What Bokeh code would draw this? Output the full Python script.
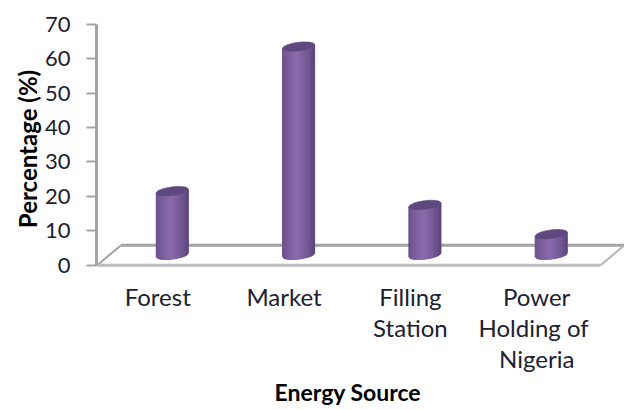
import numpy as np
from bokeh.plotting import figure
from bokeh.models import Title
from bokeh.embed import file_html
from bokeh.resources import INLINE

categories = ["Forest", "Market", "Filling\nStation", "Power\nHolding  of\nNigeria"]
values = [18.5, 60.5, 14.5, 6.0]
y_ticks = [0, 10, 20, 30, 40, 50, 60, 70]

FONT = "Lato"
TXT = "#1c2030"
GREY = "#a3a3a3"

p = figure(width=624, height=410, output_backend="svg", toolbar_location=None,
           x_range=(-0.6, 3.58), y_range=(-3, 70.5),
           min_border_left=96, min_border_right=0, min_border_top=22, min_border_bottom=135,
           outline_line_color=None, background_fill_color="white", tools="")
p.grid.visible = False

# floor
dx, dy = 0.19, 5.8
x0, x1 = -0.595, 3.39
p.line([x0 + dx, x1 + dx], [dy, dy], line_color=GREY, line_width=3)
p.line([x0, x0 + dx], [0, dy], line_color=GREY, line_width=2)
p.line([x1, x1 + dx], [0, dy], line_color="#b5b5b5", line_width=2)
p.line([x0, x1], [0, 0], line_color="#bdbdbd", line_width=3)

# cylinders
half_w = 0.127
rx = half_w
ry = 1.25      # ellipse half-height in value units
tilt = 0.55    # right side higher than left, value units
base_y = 3.0
n = 26
c_edge = np.array([0x58, 0x42, 0x78])
c_mid = np.array([0x8c, 0x6b, 0xad])
def shade(t):
    k = (1 - abs(t + 0.1) / 1.1) ** 0.65
    return "#%02x%02x%02x" % tuple(int(v) for v in c_edge + (c_mid - c_edge) * k)

for i, v in enumerate(values):
    ts = np.linspace(-1, 1, n + 1)
    xs, ys, cols = [], [], []
    for a, b in zip(ts[:-1], ts[1:]):
        pa, pb = np.sqrt(1 - a * a), np.sqrt(1 - b * b)
        bot_a = base_y + tilt * a - ry * pa
        bot_b = base_y + tilt * b - ry * pb
        top_a = base_y + v + tilt * a
        top_b = base_y + v + tilt * b
        xs.append([i + a * rx, i + b * rx, i + b * rx, i + a * rx])
        ys.append([bot_a, bot_b, top_b, top_a])
        cols.append(shade((a + b) / 2))
    p.patches(xs, ys, fill_color=cols, line_color=cols, line_width=1)
    th = np.linspace(0, 2 * np.pi, 60)
    p.patch(i + rx * np.cos(th), base_y + v + tilt * np.cos(th) + ry * np.sin(th),
            fill_color="#5e4880", line_color="#5e4880", line_width=0.6)

# y axis
ya = p.yaxis[0]
ya.bounds = (0, 70)
ya.ticker = y_ticks
ya.axis_line_color = GREY
ya.axis_line_width = 3
ya.major_tick_line_color = GREY
ya.major_tick_line_width = 2
ya.major_tick_in = 0
ya.major_tick_out = 10
ya.minor_tick_line_color = None
ya.major_label_text_font = FONT
ya.major_label_text_font_size = "22px"
ya.major_label_text_color = TXT
ya.major_label_standoff = 16
ya.axis_label = "Percentage (%)"
ya.axis_label_text_font = FONT
ya.axis_label_text_font_size = "24px"
ya.axis_label_text_font_style = "bold"
ya.axis_label_text_color = "#000000"
ya.axis_label_standoff = 0

# x axis: labels sit a little left of the cylinders, as in a 3-D chart
label_shift = -0.115
tick_pos = [round(i + label_shift, 3) for i in range(len(categories))]
xa = p.xaxis[0]
xa.ticker = tick_pos
xa.major_label_overrides = {t: c for t, c in zip(tick_pos, categories)}
xa.axis_line_color = None
xa.major_tick_line_color = None
xa.minor_tick_line_color = None
xa.major_label_text_font = FONT
xa.major_label_text_font_size = "24px"
xa.major_label_text_color = TXT
xa.major_label_text_line_height = 1.07
xa.major_label_standoff = 0

p.add_layout(Title(text="Energy Source", align="left", offset=178, standoff=0,
                   text_font=FONT, text_font_size="23px", text_font_style="bold",
                   text_color="#000000", text_baseline="alphabetic"), "below")

open("out.html", "w").write(file_html(p, INLINE))
